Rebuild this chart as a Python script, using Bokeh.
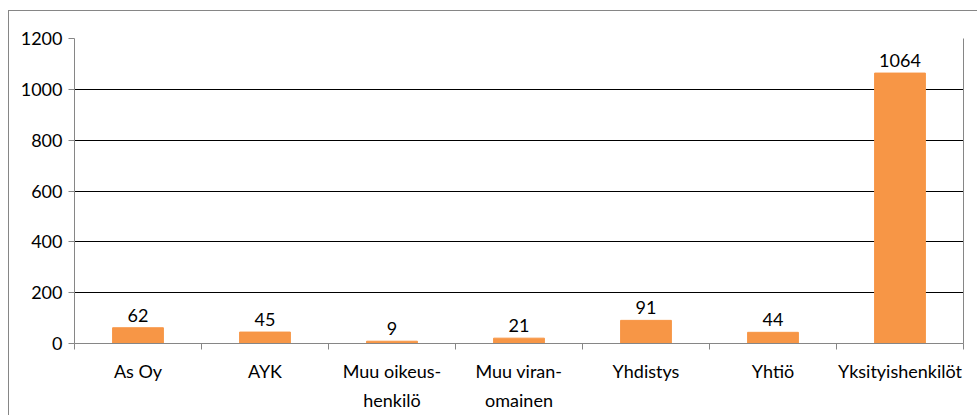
from bokeh.plotting import figure
from bokeh.models import Range1d, FixedTicker, LinearAxis, ColumnDataSource
from bokeh.embed import file_html
from bokeh.resources import INLINE
from bokeh.core.properties import value

categories = ["As Oy", "AYK", "Muu oikeus-\nhenkilö", "Muu viran-\nomainen", "Yhdistys", "Yhtiö", "Yksityishenkilöt"]
values = [62, 45, 9, 21, 91, 44, 1064]
y_ticks = [0, 200, 400, 600, 800, 1000, 1200]

FONT = "Lato"
FS = "18px"
GRAY = "#868686"

xs = [i + 0.5 for i in range(len(categories))]
src = ColumnDataSource(dict(x=xs, top=values, label=[str(v) for v in values]))

p = figure(width=969, height=405, output_backend="svg", toolbar_location=None,
           x_range=Range1d(0, len(categories)), y_range=Range1d(0, 1200),
           min_border_left=65, min_border_right=15, min_border_top=27, min_border_bottom=73,
           styles={"border-left": "1px solid #868686", "border-top": "1px solid #868686",
                   "margin-left": "8px", "margin-top": "10px"})
p.outline_line_color = None
p.background_fill_color = "white"
p.border_fill_color = "white"

p.vbar(x="x", top="top", width=0.4, bottom=0, source=src, color="#F79646")
p.text(x="x", y="top", text="label", source=src, y_offset=-6, text_align="center",
       text_baseline="bottom", text_font=value(FONT), text_font_size=FS, text_color="black")

# x axis
xa = p.xaxis[0]
xa.ticker = FixedTicker(ticks=xs, minor_ticks=list(range(len(categories) + 1)))
xa.major_label_overrides = {x: c for x, c in zip(xs, categories)}
xa.major_tick_out = 0
xa.major_tick_in = 0
xa.minor_tick_out = 6
xa.minor_tick_in = 0
xa.minor_tick_line_color = GRAY
xa.axis_line_color = GRAY
xa.major_label_standoff = 10
xa.major_label_text_font = FONT
xa.major_label_text_font_size = FS
xa.major_label_text_color = "black"
xa.major_label_text_line_height = 1.35

# y axis
ya = p.yaxis[0]
ya.ticker = FixedTicker(ticks=y_ticks)
ya.major_tick_out = 6
ya.major_tick_in = 0
ya.minor_tick_line_color = None
ya.major_tick_line_color = GRAY
ya.axis_line_color = GRAY
ya.major_label_standoff = 6
ya.major_label_text_font = FONT
ya.major_label_text_font_size = FS
ya.major_label_text_color = "black"

# right frame line
ra = LinearAxis(ticker=FixedTicker(ticks=[]), major_tick_line_color=None,
                minor_tick_line_color=None, axis_line_color=GRAY)
p.add_layout(ra, "right")

p.xgrid.grid_line_color = None
p.ygrid.ticker = FixedTicker(ticks=y_ticks)
p.ygrid.grid_line_color = "black"
p.ygrid.grid_line_width = 1

open("out.html", "w").write(file_html(p, INLINE))
